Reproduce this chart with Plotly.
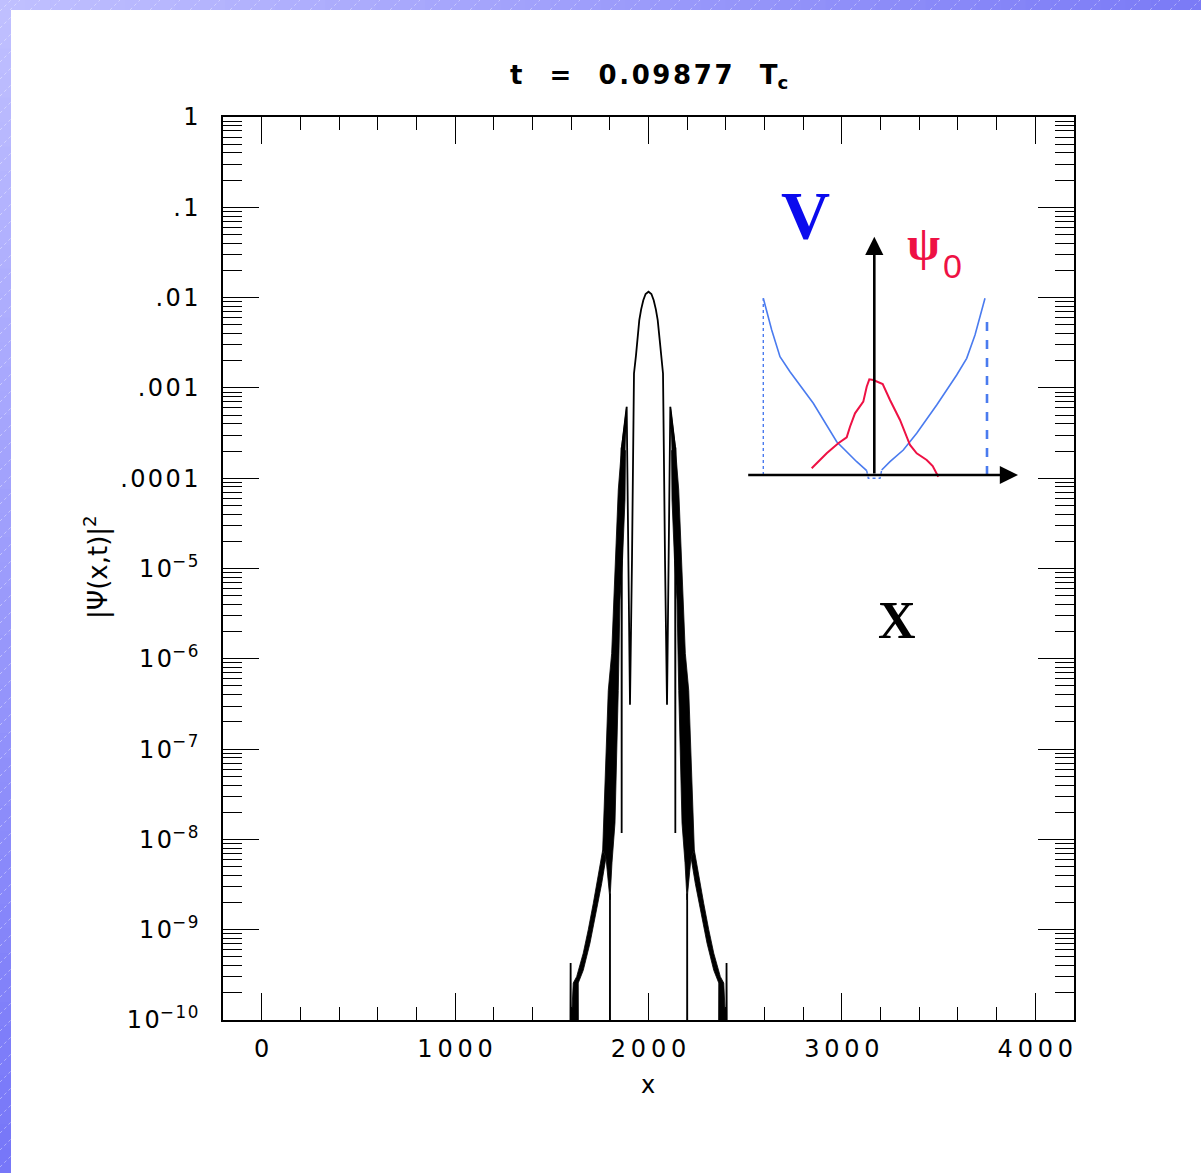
import numpy as np
import plotly.graph_objects as go

# ---------------- main curve |psi(x,t)|^2 (x, log10 of value) ----------------
# thin line through the oscillating curve (None separates pieces)
curve_x = [1596.0, 1597.4, 1599.0, None,
           1800.4, 1800.8, 1801.2, None,
           1860.5, 1861.3, 1862.5, 1887.2, 1904.3, 1914.6, 1925.0, 1935.3, 1942.0,
           1952.4, 1962.0, 1973.1, 1985.0, 2000.0, 2015.0, 2026.9, 2038.0, 2047.6,
           2058.0, 2064.7, 2075.0, 2085.4, 2095.7, 2112.8, 2137.5, 2138.7, 2139.5, None,
           2199.6, 2200.0, 2200.4, None,
           2402.0, 2403.5, 2405.0]
curve_log = [-10.3, -9.37, -10.3, None,
             -10.3, -8.6, -10.3, None,
             -3.66, -7.93, -3.66, -3.21, -6.51, -4.91, -2.84, -2.64, -2.47,
             -2.25, -2.13, -2.03, -1.96, -1.935, -1.96, -2.03, -2.13, -2.25,
             -2.47, -2.64, -2.84, -4.91, -6.51, -3.21, -3.66, -7.93, -3.66, None,
             -10.3, -8.6, -10.3, None,
             -10.3, -9.37, -10.3]

# dense oscillation bands (outline of the filled region)
band_l_x = [1887.2, 1861.3, 1843.7, 1835.4, 1826.7, 1817.9, 1809.6, 1792.0, 1774.9, 1763.0,
            1780.1, 1800.8, 1811.1, 1826.7, 1843.7, 1852.5, 1865.4, 1878.4, 1881.0]
band_l_log = [-3.21, -3.65, -4.13, -4.57, -4.98, -5.50, -5.94, -6.35, -7.45, -8.12,
              -8.20, -8.67, -8.26, -7.82, -6.35, -5.35, -4.91, -4.24, -3.69]
band_r_x = [2112.8, 2138.7, 2156.3, 2164.6, 2173.3, 2182.1, 2190.4, 2208.0, 2225.1, 2237.0,
            2219.9, 2199.2, 2188.9, 2173.3, 2156.3, 2147.5, 2134.6, 2121.6, 2119.0]
band_r_log = [-3.21, -3.65, -4.13, -4.57, -4.98, -5.50, -5.94, -6.35, -7.45, -8.12,
              -8.20, -8.67, -8.26, -7.82, -6.35, -5.35, -4.91, -4.24, -3.69]

tail_l_x = [1763.0, 1740.2, 1714.4, 1688.5, 1662.6, 1628.5, 1610.9, 1597.4, 1637.8,
            1636.8, 1662.6, 1697.3, 1731.9, 1757.8, 1780.1]
tail_l_log = [-8.12, -8.41, -8.71, -9.00, -9.26, -9.52, -9.59, -10.2, -10.2,
              -9.59, -9.45, -9.15, -8.78, -8.49, -8.20]
tail_r_x = [2237.0, 2259.8, 2285.6, 2311.5, 2337.4, 2371.5, 2389.1, 2402.6, 2362.2,
            2363.2, 2337.4, 2302.7, 2268.1, 2242.2, 2219.9]
tail_r_log = [-8.12, -8.41, -8.71, -9.00, -9.26, -9.52, -9.59, -10.2, -10.2,
              -9.59, -9.45, -9.15, -8.78, -8.49, -8.20]

# ---------------- inset sketch: potential V and initial state psi_0 ----------------
v_left_x = [-1.110, -1.026, -0.943, -0.843, -0.610, -0.376, -0.176, -0.076]
v_left_y = [1.767, 1.450, 1.183, 1.033, 0.717, 0.333, 0.133, 0.043]
v_floor_x = [-0.076, -0.060, 0.057, 0.074]
v_floor_y = [0.043, -0.033, -0.033, 0.050]
v_right_x = [0.074, 0.157, 0.290, 0.424, 0.624, 0.824, 0.924, 1.007, 1.107]
v_right_y = [0.050, 0.133, 0.250, 0.417, 0.700, 1.000, 1.167, 1.400, 1.767]
wall_left_x, wall_left_y = [-1.110, -1.110], [0.0, 1.767]
wall_right_x, wall_right_y = [1.127, 1.127], [0.0, 1.600]
psi0_x = [-0.626, -0.476, -0.360, -0.276, -0.243, -0.193, -0.110, -0.076, -0.050,
          -0.010, 0.084, 0.157, 0.257, 0.357, 0.424, 0.524, 0.584, 0.640]
psi0_y = [0.067, 0.217, 0.317, 0.377, 0.483, 0.617, 0.733, 0.883, 0.957,
          0.950, 0.910, 0.750, 0.550, 0.300, 0.217, 0.150, 0.090, -0.017]

# ---------------- axis ticks ----------------
x_ticks = [0, 1000, 2000, 3000, 4000]
x_ticklabels = ["0", "1000", "2000", "3000", "4000"]
y_ticks = [1e-10, 1e-9, 1e-8, 1e-7, 1e-6, 1e-5, 1e-4, 1e-3, 1e-2, 1e-1, 1]
y_ticklabels = ["10<sup>−10</sup>", "10<sup>−9</sup>", "10<sup>−8</sup>", "10<sup>−7</sup>",
                "10<sup>−6</sup>", "10<sup>−5</sup>", ".0001", ".001", ".01", ".1", "1"]

HS = "\u200a"   # hair space
TS = "\u2009"   # thin space
NB = "\u00a0"   # no-break space


def spaced(s, sep):
    out, i = "", 0
    while i < len(s):
        if s[i] == "<":
            j = s.index(">", i)
            out += s[i:j + 1]
            i = j + 1
        else:
            out += s[i]
            if i + 1 < len(s) and s[i + 1] != "<":
                out += sep
            i += 1
    return out


def to_val(logs):
    return [None if v is None else 10.0 ** v for v in logs]


W, H = 1201, 1173
ML, MR, MT, MB = 223, 127, 117, 153
PW, PH = W - ML - MR, H - MT - MB


def xp(px):
    return (px - ML) / PW


def yp(py):
    return (H - MB - py) / PH


fig = go.Figure()

black = "#000000"
for bx, by in [(band_l_x, band_l_log), (band_r_x, band_r_log),
               (tail_l_x, tail_l_log), (tail_r_x, tail_r_log)]:
    fig.add_trace(go.Scatter(x=bx, y=to_val(by), mode="lines", fill="toself",
                             fillcolor=black, line=dict(color=black, width=0.8),
                             hoverinfo="skip", showlegend=False))
fig.add_trace(go.Scatter(x=curve_x, y=to_val(curve_log), mode="lines",
                         line=dict(color=black, width=1.8), connectgaps=False,
                         showlegend=False))

blue = "#4a7bef"
red = "#ee1144"
fig.add_trace(go.Scatter(x=v_left_x, y=v_left_y, xaxis="x2", yaxis="y2", mode="lines",
                         line=dict(color=blue, width=1.6), showlegend=False))
fig.add_trace(go.Scatter(x=v_floor_x, y=v_floor_y, xaxis="x2", yaxis="y2", mode="lines",
                         line=dict(color=blue, width=1.4, dash="dot"), showlegend=False))
fig.add_trace(go.Scatter(x=v_right_x, y=v_right_y, xaxis="x2", yaxis="y2", mode="lines",
                         line=dict(color=blue, width=1.6), showlegend=False))
fig.add_trace(go.Scatter(x=wall_left_x, y=wall_left_y, xaxis="x2", yaxis="y2", mode="lines",
                         line=dict(color=blue, width=1.4, dash="dot"), showlegend=False))
fig.add_trace(go.Scatter(x=wall_right_x, y=wall_right_y, xaxis="x2", yaxis="y2", mode="lines",
                         line=dict(color=blue, width=2.6, dash="dash"), showlegend=False))
fig.add_trace(go.Scatter(x=psi0_x, y=psi0_y, xaxis="x2", yaxis="y2", mode="lines",
                         line=dict(color=red, width=2), showlegend=False))

# ---------------- decorative slide frame (gradient strips on top and left) ----------------
shapes = []
n = 48


def mix(c0, c1, t):
    return "rgb(%d,%d,%d)" % tuple(round(a + (b - a) * t) for a, b in zip(c0, c1))


light, dark_top, dark_left = (192, 192, 255), (122, 122, 246), (118, 118, 248)
for i in range(n):
    x0, x1 = i * W / n, (i + 1) * W / n + 1
    shapes.append(dict(type="rect", xref="paper", yref="paper", layer="above",
                       x0=xp(x0), x1=xp(x1), y0=yp(10), y1=yp(0),
                       fillcolor=mix(light, dark_top, (i + 0.5) / n), line=dict(width=0)))
for i in range(n):
    y0, y1 = i * H / n, (i + 1) * H / n + 1
    shapes.append(dict(type="rect", xref="paper", yref="paper", layer="above",
                       x0=xp(0), x1=xp(11), y0=yp(y1), y1=yp(y0),
                       fillcolor=mix(light, dark_left, (i + 0.5) / n), line=dict(width=0)))
for x in range(-10, W, 20):
    shapes.append(dict(type="line", xref="paper", yref="paper", layer="above",
                       x0=xp(x), y0=yp(10), x1=xp(x + 10), y1=yp(0),
                       line=dict(color="rgba(255,255,255,0.4)", width=1, dash="dot")))
for y in range(11, H + 12, 17):
    shapes.append(dict(type="line", xref="paper", yref="paper", layer="above",
                       x0=xp(0), y0=yp(y), x1=xp(11), y1=yp(y - 11),
                       line=dict(color="rgba(255,255,255,0.4)", width=1, dash="dot")))

font = "DejaVu Sans"
title_text = ("t" + NB * 3 + "=" + NB * 3 + spaced("0.09877", HS) + NB * 3 + "T<sub>c</sub>")
annotations = [
    dict(text=title_text,
         x=xp(649), y=yp(76), xref="paper", yref="paper", showarrow=False,
         font=dict(family=font, size=26, color=black, weight="bold"),
         xanchor="center", yanchor="middle"),
    dict(text="x", x=xp(648), y=yp(1085), xref="paper", yref="paper", showarrow=False,
         font=dict(family=font, size=24, color=black), xanchor="center", yanchor="middle"),
    dict(text="|Ψ(x,t)|<sup>2</sup>", x=xp(96), y=yp(567), xref="paper", yref="paper",
         showarrow=False, textangle=-90,
         font=dict(family=font, size=26, color=black), xanchor="center", yanchor="middle"),
    # inset arrows
    dict(x=1.437, y=0, ax=-1.276, ay=0, xref="x2", yref="y2", axref="x2", ayref="y2",
         text="", showarrow=True, arrowhead=2, arrowsize=1.4, arrowwidth=2.6,
         arrowcolor=black, standoff=0, startstandoff=0),
    dict(x=0, y=2.383, ax=0, ay=0, xref="x2", yref="y2", axref="x2", ayref="y2",
         text="", showarrow=True, arrowhead=2, arrowsize=1.4, arrowwidth=2.6,
         arrowcolor=black, standoff=0, startstandoff=0),
    dict(text="V", x=xp(805), y=yp(215), xref="paper", yref="paper", showarrow=False,
         font=dict(family="Liberation Serif", size=68, color="#0a0aee", weight="bold"),
         xanchor="center", yanchor="middle"),
    dict(text="ψ", x=xp(923), y=yp(243), xref="paper", yref="paper", showarrow=False,
         font=dict(family="Liberation Serif", size=48, color=red, weight="bold"),
         xanchor="center", yanchor="middle"),
    dict(text="0", x=xp(952), y=yp(266), xref="paper", yref="paper", showarrow=False,
         font=dict(family="Liberation Sans", size=34, color=red),
         xanchor="center", yanchor="middle"),
    dict(text="X", x=xp(897), y=yp(620), xref="paper", yref="paper", showarrow=False,
         font=dict(family="Liberation Serif", size=52, color=black, weight="bold"),
         xanchor="center", yanchor="middle"),
]

fig.update_layout(
    width=W, height=H,
    margin=dict(l=ML, r=MR, t=MT, b=MB, pad=0),
    paper_bgcolor="white", plot_bgcolor="white",
    showlegend=False,
    shapes=shapes,
    annotations=annotations,
    xaxis=dict(range=[-200, 4200], tickmode="array", tickvals=x_ticks,
               ticktext=[spaced(t, TS) for t in x_ticklabels],
               ticks="inside", ticklen=27, tickwidth=1, tickcolor=black,
               minor=dict(dtick=200, tick0=0, ticks="inside", ticklen=13,
                          tickwidth=1, tickcolor=black, showgrid=False),
               showline=True, linewidth=1.5, linecolor=black, mirror="allticks",
               showgrid=False, zeroline=False, ticklabelstandoff=6,
               tickfont=dict(family=font, size=24, color=black)),
    yaxis=dict(type="log", range=[-10, 0], tickmode="array", tickvals=y_ticks,
               ticktext=[spaced(t, HS) for t in y_ticklabels],
               ticks="inside", ticklen=36, tickwidth=1, tickcolor=black,
               minor=dict(dtick="D1", ticks="inside", ticklen=19,
                          tickwidth=1, tickcolor=black, showgrid=False),
               showline=True, linewidth=1.5, linecolor=black, mirror="allticks",
               showgrid=False, zeroline=False, ticklabelstandoff=18,
               tickfont=dict(family=font, size=24, color=black)),
    xaxis2=dict(domain=[xp(740), xp(1030)], range=[-1.343, 1.557], visible=False,
                anchor="y2", fixedrange=True),
    yaxis2=dict(domain=[yp(490), yp(225)], range=[-0.15, 2.5], visible=False,
                anchor="x2", fixedrange=True),
)

fig.write_html("out.html")
